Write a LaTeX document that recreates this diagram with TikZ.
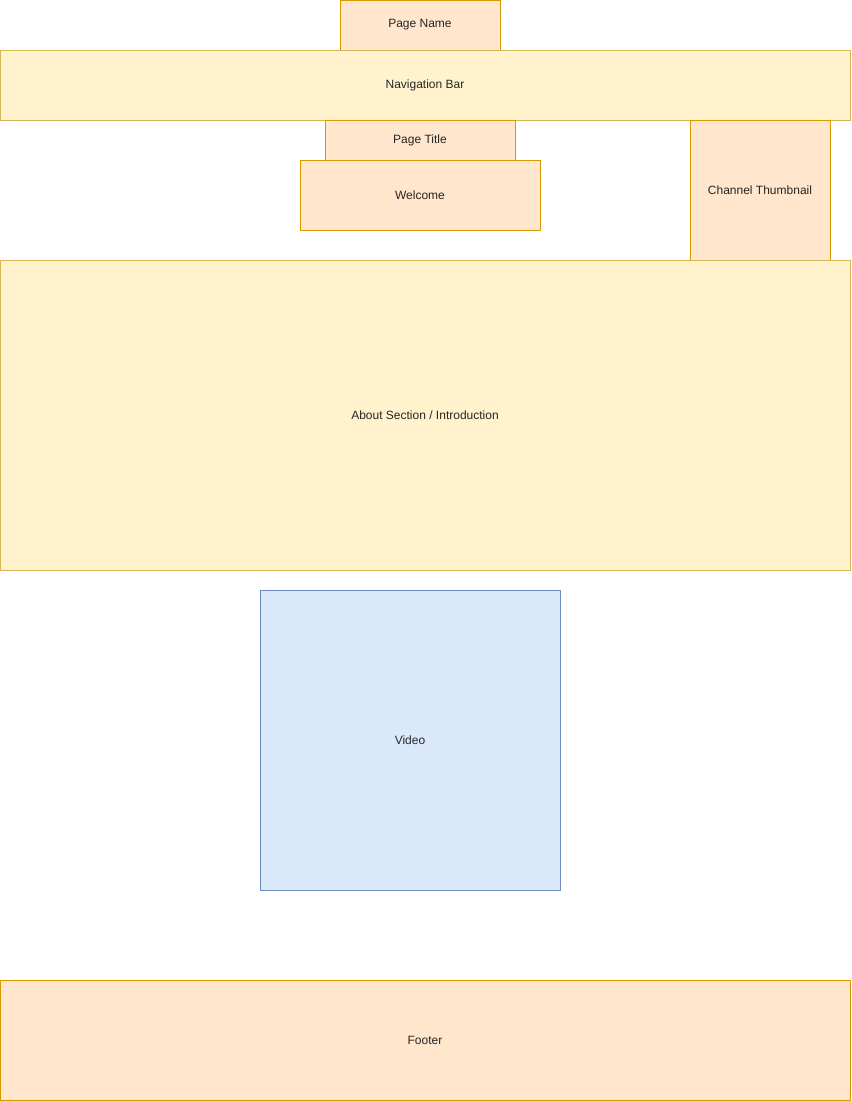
\documentclass[tikz,border=0pt]{standalone}
\usepackage{fontspec}
\setmainfont{Liberation Sans}
\definecolor{peach}{HTML}{FFE6CC}
\definecolor{peachline}{HTML}{D79B00}
\definecolor{cream}{HTML}{FFF2CC}
\definecolor{creamline}{HTML}{D6B656}
\definecolor{skyfill}{HTML}{DAE8FC}
\definecolor{skyline}{HTML}{6C8EBF}
\tikzset{
  orangebox/.style={fill=peach,draw=peachline,line width=0.75pt},
  yellowbox/.style={fill=cream,draw=creamline,line width=0.75pt},
  bluebox/.style={fill=skyfill,draw=skyline,line width=0.75pt},
  label/.style={font=\fontsize{9}{11}\selectfont,text=black!85}
}
\begin{document}
\begin{tikzpicture}[x=0.75pt,y=-0.75pt]
\useasboundingbox (0,0) rectangle (851,1101);
\fill[white] (0,0) rectangle (851,1101);
\draw[orangebox] (340.5,0.5) rectangle (500.5,50.5);
\node[label] (pagename) at (420,25) {Page Name};
\draw[yellowbox] (0.5,50.5) rectangle (850.5,120.5);
\node[label] (navbar) at (425,85) {Navigation Bar};
\draw[orangebox] (325.5,120.5) rectangle (515.5,160.5);
\node[label] (pagetitle) at (420,140) {Page Title};
\draw[orangebox] (300.5,160.5) rectangle (540.5,230.5);
\node[label] (welcome) at (420,195) {Welcome};
\draw[orangebox] (690.5,120.5) rectangle (830.5,260.5);
\node[label] (thumbnail) at (760,190) {Channel Thumbnail};
\draw[yellowbox] (0.5,260.5) rectangle (850.5,570.5);
\node[label] (about) at (425,415) {About Section / Introduction};
\draw[bluebox] (260.5,590.5) rectangle (560.5,890.5);
\node[label] (video) at (410,740) {Video};
\draw[orangebox] (0.5,980.5) rectangle (850.5,1100.5);
\node[label] (footer) at (425,1040) {Footer};
\end{tikzpicture}
\end{document}
